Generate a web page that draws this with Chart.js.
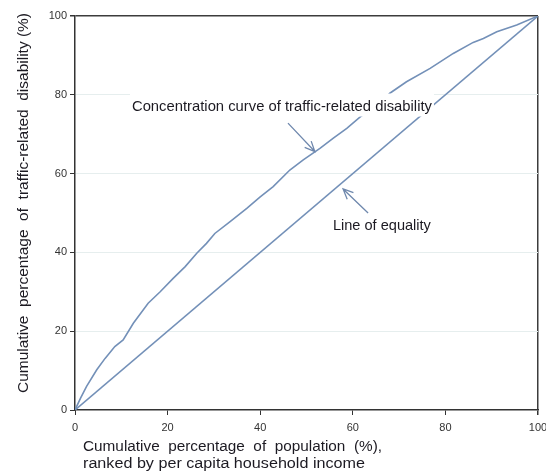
<!DOCTYPE html>
<html>
<head>
<meta charset="utf-8">
<script src="https://cdn.jsdelivr.net/npm/chart.js@4/dist/chart.umd.min.js"></script>
<style>
  html, body { margin: 0; padding: 0; background: #ffffff; }
  #wrap { width: 546px; height: 473px; position: relative; }
</style>
</head>
<body>
<div id="wrap"><canvas id="c" width="546" height="473"></canvas></div>
<script>
// ---- data ----
const popShare = [0, 1.2, 2.5, 4.7, 6.5, 8.6, 10.4, 12.6, 15.8, 18.4, 21.2, 23.8, 26.3, 28.4, 30.2, 33.5, 37.1, 40.0, 42.8, 46.4, 49.3, 52.9, 55.8, 58.7, 61.6, 65.9, 68.0, 71.6, 76.7, 81.7, 86.0, 88.2, 91.1, 95.4, 100];
const disabilityShare = [0, 3.0, 6.0, 10.2, 13.1, 16.1, 17.8, 22.0, 27.1, 30.0, 33.4, 36.4, 39.8, 42.3, 44.8, 47.8, 51.2, 54.1, 56.7, 60.9, 63.5, 66.4, 69.0, 71.5, 74.4, 77.8, 80.4, 83.3, 86.7, 90.5, 93.3, 94.3, 96.0, 97.7, 100];
const equalityX = [0, 100];
const equalityY = [0, 100];
const tickValues = [0, 20, 40, 60, 80, 100];

const yTitle = 'Cumulative  percentage  of  traffic-related  disability (%)';
const xTitle1 = 'Cumulative  percentage  of  population  (%),';
const xTitle2 = 'ranked by per capita household income';
const label1 = 'Concentration curve of traffic-related disability';
const label2 = 'Line of equality';

// annotation anchors in data units
const notes = [
  { text: label1, x: 12.3, y: 76.0, w: 300, box: true,
    arrow: { from: [46.0, 72.8], to: [51.8, 65.6] } },
  { text: label2, x: 55.7, y: 45.7, w: 98, box: false,
    arrow: { from: [63.3, 50.0], to: [57.9, 56.1] } }
];

const LINE = '#7390b8';
const FONT = '"Liberation Sans", Arial, sans-serif';

function fitText(ctx, text, x, y, w, size) {
  ctx.save();
  ctx.font = size + 'px ' + FONT;
  const m = ctx.measureText(text).width;
  ctx.translate(x, y);
  ctx.scale(w / m, 1);
  ctx.textAlign = 'left';
  ctx.textBaseline = 'alphabetic';
  ctx.fillText(text, 0, 0);
  ctx.restore();
}

function arrow(ctx, x1, y1, x2, y2) {
  const a = Math.atan2(y2 - y1, x2 - x1);
  const L = 11, s = 0.42;
  ctx.beginPath();
  ctx.moveTo(x1, y1); ctx.lineTo(x2, y2);
  ctx.moveTo(x2 - L * Math.cos(a - s), y2 - L * Math.sin(a - s));
  ctx.lineTo(x2, y2);
  ctx.lineTo(x2 - L * Math.cos(a + s), y2 - L * Math.sin(a + s));
  ctx.stroke();
}

const textPlugin = {
  id: 'texts',
  afterDatasetsDraw(chart) {
    const ctx = chart.ctx;
    const xs = chart.scales.x, ys = chart.scales.y;
    ctx.save();
    ctx.fillStyle = '#1c1a22';
    notes.forEach(n => {
      const px = xs.getPixelForValue(n.x), py = ys.getPixelForValue(n.y);
      if (n.box) {
        ctx.save();
        ctx.fillStyle = '#ffffff';
        ctx.fillRect(px - 2, py - 17, n.w + 4, 23);
        ctx.restore();
      }
      fitText(ctx, n.text, px, py, n.w, 15);
      ctx.save();
      ctx.strokeStyle = '#6f88ad';
      ctx.lineWidth = 1.3;
      arrow(ctx, xs.getPixelForValue(n.arrow.from[0]), ys.getPixelForValue(n.arrow.from[1]),
                 xs.getPixelForValue(n.arrow.to[0]), ys.getPixelForValue(n.arrow.to[1]));
      ctx.restore();
    });
    // axis titles
    ctx.save();
    ctx.translate(28, 393);
    ctx.rotate(-Math.PI / 2);
    fitText(ctx, yTitle, 0, 0, 380, 15);
    ctx.restore();
    fitText(ctx, xTitle1, 83, 451, 299, 15.5);
    fitText(ctx, xTitle2, 83, 468, 282, 15.5);
    ctx.restore();
  }
};

const concPoints = popShare.map((v, i) => ({ x: v, y: disabilityShare[i] }));
const eqPoints = equalityX.map((v, i) => ({ x: v, y: equalityY[i] }));

new Chart(document.getElementById('c'), {
  type: 'scatter',
  data: {
    datasets: [
      { data: concPoints, showLine: true, borderColor: LINE, borderWidth: 1.6, pointRadius: 0, tension: 0 },
      { data: eqPoints, showLine: true, borderColor: LINE, borderWidth: 1.6, pointRadius: 0, tension: 0 }
    ]
  },
  options: {
    responsive: false,
    animation: false,
    devicePixelRatio: 1,
    layout: { padding: { left: 0, right: 8, top: 16, bottom: 0 } },
    plugins: { legend: { display: false }, tooltip: { enabled: false } },
    scales: {
      x: {
        type: 'linear', min: 0, max: 100,
        afterBuildTicks: s => { s.ticks = tickValues.map(v => ({ value: v })); },
        afterFit: s => { s.height = 63; s.paddingRight = 0; s.paddingLeft = 0; },
        border: { display: true, color: '#333333', width: 1.5 },
        grid: {
          drawOnChartArea: true,
          color: c => (c.tick && c.tick.value === 100) ? '#3c3c3c' : 'rgba(0,0,0,0)',
          lineWidth: c => (c.tick && c.tick.value === 100) ? 1.5 : 1,
          tickColor: '#333333', tickLength: 5
        },
        ticks: { color: '#333333', font: { family: FONT, size: 11 }, padding: 6, maxRotation: 0 }
      },
      y: {
        type: 'linear', min: 0, max: 100,
        afterBuildTicks: s => { s.ticks = tickValues.map(v => ({ value: v })); },
        afterFit: s => { s.width = 75; s.paddingTop = 0; s.paddingBottom = 0; },
        border: { display: true, color: '#333333', width: 1.5 },
        grid: {
          color: c => {
            if (!c.tick) return 'rgba(0,0,0,0)';
            if (c.tick.value === 100) return '#3c3c3c';
            if (c.tick.value === 0) return 'rgba(0,0,0,0)';
            return '#e6eeee';
          },
          lineWidth: c => (c.tick && c.tick.value === 100) ? 1.5 : 1,
          tickColor: '#333333', tickLength: 5
        },
        ticks: { color: '#333333', font: { family: FONT, size: 11 }, padding: 3 }
      }
    }
  },
  plugins: [textPlugin]
});
</script>
</body>
</html>
